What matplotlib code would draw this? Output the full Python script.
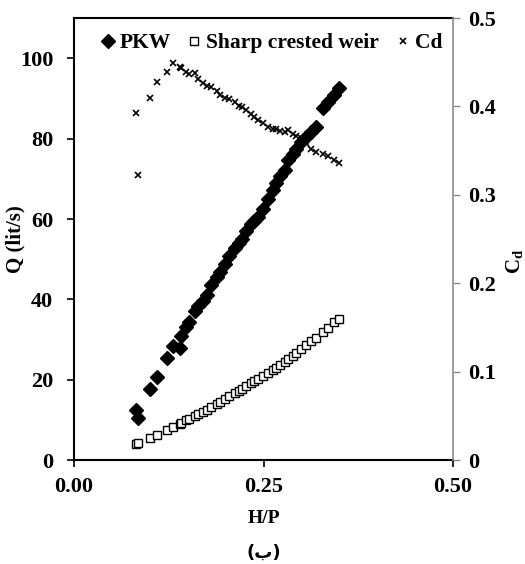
import numpy as np
import matplotlib.pyplot as plt

plt.rcParams['font.family'] = ['Liberation Serif', 'DejaVu Sans']
plt.rcParams['font.weight'] = 'bold'

# H/P (mismos puntos para las tres series)
hp = [0.082, 0.085, 0.100, 0.110, 0.123, 0.131, 0.140, 0.141, 0.148, 0.152,
      0.159, 0.164, 0.170, 0.175, 0.181, 0.188, 0.193, 0.199, 0.205, 0.212,
      0.217, 0.221, 0.227, 0.234, 0.238, 0.243, 0.249, 0.256, 0.262, 0.267,
      0.272, 0.278, 0.282, 0.289, 0.293, 0.300, 0.306, 0.313, 0.319, 0.328,
      0.335, 0.343, 0.350]

# Caudal PKW (lit/s)
q_pkw = [12.5, 10.6, 17.7, 20.6, 25.4, 28.3, 27.8, 30.8, 33.1, 34.5,
         37.0, 38.3, 39.5, 41.0, 43.6, 45.5, 46.8, 48.8, 50.8, 52.7,
         54.0, 55.0, 57.1, 58.8, 59.6, 60.6, 62.5, 65.0, 67.3, 69.0,
         70.8, 72.2, 74.6, 76.3, 77.5, 79.2, 80.3, 81.7, 82.9, 87.5,
         89.2, 90.8, 92.5]

# Caudal vertedero de cresta delgada (lit/s)
q_sharp = [4.0, 4.2, 5.5, 6.2, 7.5, 8.3, 9.0, 9.2, 9.9, 10.3,
           10.9, 11.5, 12.1, 12.6, 13.3, 14.0, 14.6, 15.3, 15.9, 16.6,
           17.2, 17.6, 18.5, 19.2, 19.7, 20.3, 21.0, 21.8, 22.4, 23.0,
           23.7, 24.5, 25.2, 26.0, 26.6, 27.7, 28.6, 29.6, 30.3, 31.8,
           32.9, 34.3, 35.2]

# Coeficiente de descarga
cd = [0.393, 0.323, 0.410, 0.428, 0.439, 0.449, 0.445, 0.443, 0.439, 0.437,
      0.438, 0.431, 0.427, 0.423, 0.422, 0.417, 0.413, 0.410, 0.409, 0.405,
      0.401, 0.399, 0.396, 0.391, 0.388, 0.385, 0.381, 0.377, 0.375, 0.374,
      0.372, 0.371, 0.373, 0.369, 0.367, 0.364, 0.359, 0.352, 0.349, 0.346,
      0.344, 0.340, 0.336]

fig = plt.figure(figsize=(5.25, 5.64), dpi=100)
ax = fig.add_axes([0.141, 0.184, 0.722, 0.784])
ax2 = ax.twinx()

p1, = ax.plot(hp, q_pkw, 'D', color='black', markersize=7, linestyle='none', label='PKW')
p2, = ax.plot(hp, q_sharp, 's', mfc='white', mec='black', markersize=6, mew=1.0,
              linestyle='none', label='Sharp crested weir')
p3, = ax2.plot(hp, cd, 'x', color='black', markersize=5, mew=1.2, linestyle='none', label='Cd')

ax.set_xlim(0, 0.5)
ax.set_ylim(0, 110)
ax.set_xticks([0, 0.25, 0.5])
ax.set_xticklabels(['0.00', '0.25', '0.50'])
ax.set_yticks([0, 20, 40, 60, 80, 100])
ax2.set_ylim(0, 0.5)
ax2.set_yticks([0, 0.1, 0.2, 0.3, 0.4, 0.5])
ax2.set_yticklabels(['0', '0.1', '0.2', '0.3', '0.4', '0.5'])

for s in ['left', 'top', 'bottom']:
    ax.spines[s].set_linewidth(1.5)
    ax.spines[s].set_color('black')
ax.spines['right'].set_visible(False)
ax2.spines['right'].set_color('#8c8c8c')
ax2.spines['right'].set_linewidth(1.2)
for s in ['left', 'top', 'bottom']:
    ax2.spines[s].set_visible(False)

ax.tick_params(axis='both', direction='out', length=5, width=1.2, labelsize=16)
ax.tick_params(axis='y', pad=10)
ax.tick_params(axis='x', pad=7)
ax2.tick_params(axis='y', direction='out', length=5, width=1.0, color='#8c8c8c',
                labelsize=16, pad=6)

ax.set_xlabel('H/P', fontsize=14, fontweight='bold')
ax.xaxis.set_label_coords(0.5, -0.112)
ax.set_ylabel('Q (lit/s)', fontsize=15, fontweight='bold')
ax.yaxis.set_label_coords(-0.128, 0.5)
ax2.set_ylabel('C$_\\mathregular{d}$', fontsize=15, fontweight='bold')
ax2.yaxis.set_label_coords(1.135, 0.45)

ax.legend(handles=[p1, p2, p3], loc='upper center', ncol=3, frameon=False,
          fontsize=15.5, handlelength=0.7, handletextpad=0.2, columnspacing=0.75,
          markerscale=0.95, bbox_to_anchor=(0.52, 1.01))

fig.text(0.503, 0.02, '(ب)', ha='center', va='center', fontsize=13,
         fontweight='bold', family=['DejaVu Sans'])

plt.savefig('out.png', dpi=100)
